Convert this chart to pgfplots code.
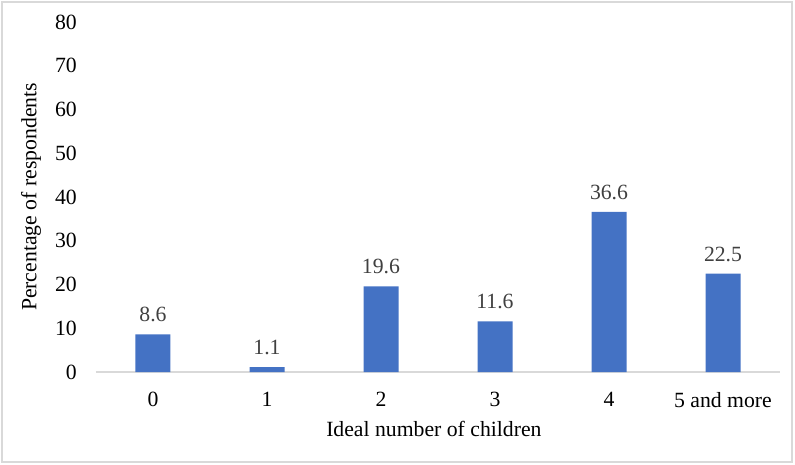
\documentclass[border=0pt]{standalone}
\usepackage{fontspec}
\setmainfont{Liberation Serif}
\usepackage{pgfplots}
\pgfplotsset{compat=1.18}

\definecolor{barblue}{HTML}{4472C4}
\definecolor{axisgray}{HTML}{D9D9D9}
\definecolor{labelgray}{HTML}{404040}
\newcommand{\chartfont}{\fontsize{21.8}{24}\selectfont}

\begin{document}
\begin{tikzpicture}
\begin{axis}[
  scale only axis,
  width=684bp, height=350bp,
  xmin=-0.5, xmax=5.5, ymin=0, ymax=80,
  axis x line=bottom, axis y line=left,
  axis line style={-},
  x axis line style={draw=axisgray, line width=1.2bp},
  y axis line style={draw=none},
  xtick={0,...,5},
  xticklabels={0,1,2,3,4,5 and more},
  ytick={0,10,...,80},
  major tick length=0pt,
  /pgf/number format/assume math mode=true,
  tick label style={font=\chartfont, inner sep=0pt, text=black},
  yticklabel style={anchor=east, xshift=-19bp},
  xticklabel style={anchor=north, yshift=-20bp},
  xlabel={Ideal number of children},
  ylabel={Percentage of respondents},
  every axis x label/.style={at={(axis description cs:0.494,-0.1857)}, anchor=base, font=\chartfont, inner sep=0pt},
  every axis y label/.style={at={(axis description cs:-0.0950,0.5)}, rotate=90, anchor=center, font=\chartfont, inner sep=0pt},
  ybar, bar width=35bp,
  point meta=explicit symbolic,
  nodes near coords={\pgfplotspointmeta},
  every node near coord/.append style={font=\chartfont, text=labelgray, inner sep=0pt, anchor=south, yshift=12bp},
  clip=false,
]
\addplot[fill=barblue, draw=none] coordinates {
  (0,8.6)  [8.6]
  (1,1.1)  [1.1]
  (2,19.6) [19.6]
  (3,11.6) [11.6]
  (4,36.6) [36.6]
  (5,22.5) [22.5]
};
\end{axis}
\pgfresetboundingbox
\useasboundingbox (-96bp,-93bp) rectangle (699bp,372bp);
\draw[axisgray, line width=1.2bp] (-94bp,-90bp) rectangle (696bp,370bp);
\end{tikzpicture}
\end{document}
